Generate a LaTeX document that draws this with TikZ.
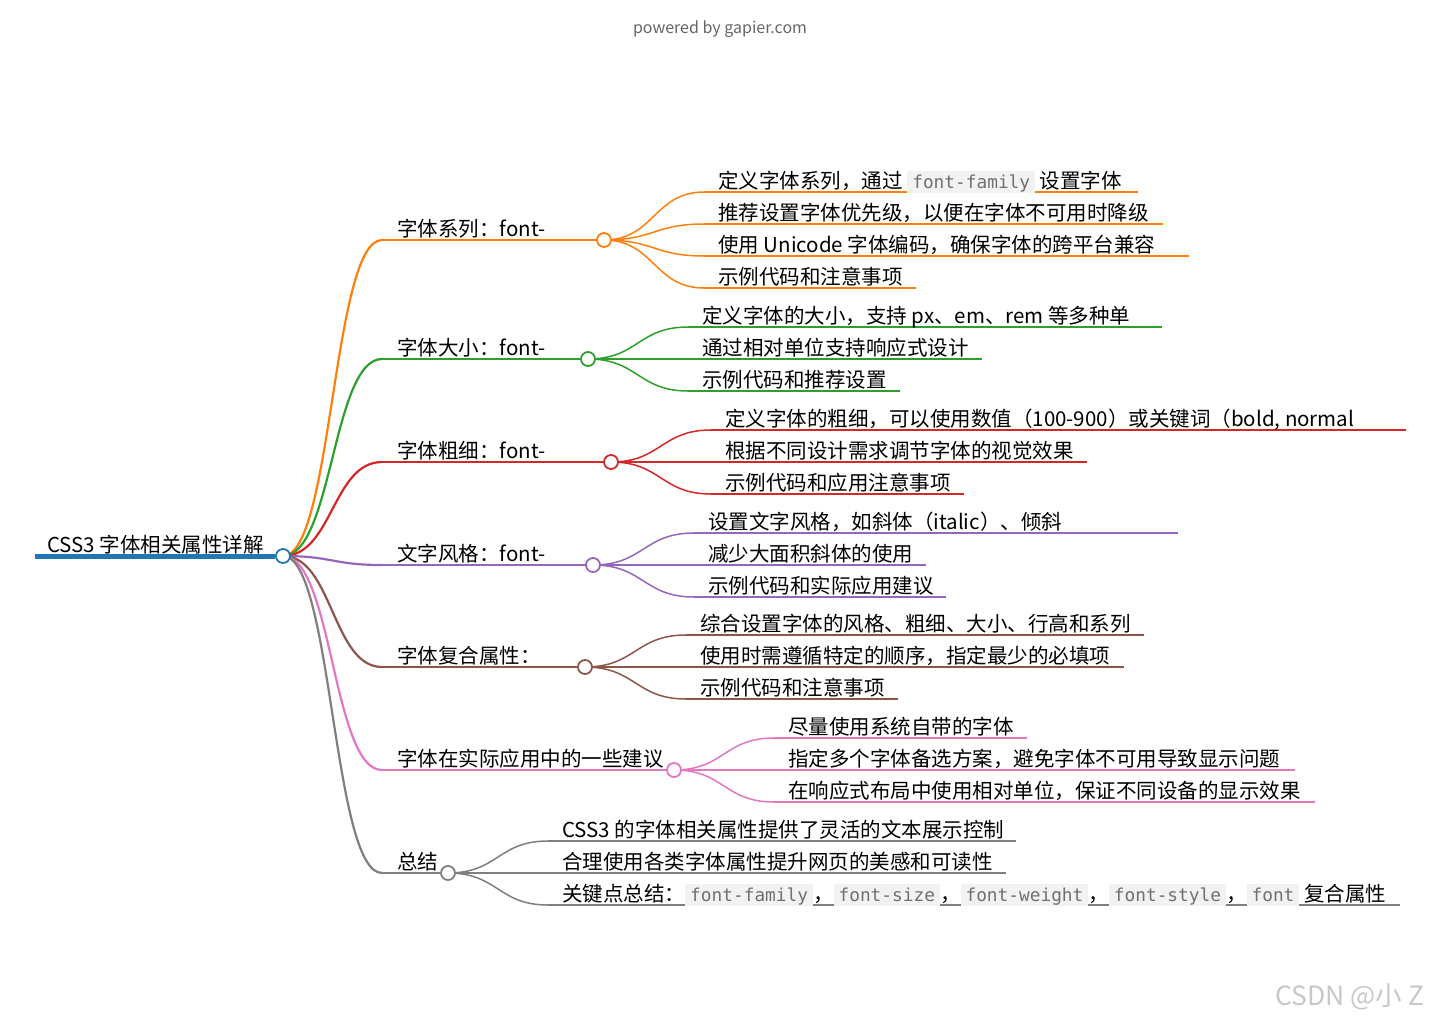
\documentclass[tikz,border=0pt]{standalone}
\usepackage{fontspec}
\setmainfont{Noto Sans CJK SC}
\newfontfamily\monof{DejaVu Sans Mono}
\usetikzlibrary{calc}
\definecolor{cRoot}{HTML}{1F77B4}
\definecolor{cOr}{HTML}{FF7F0E}
\definecolor{cGr}{HTML}{2CA02C}
\definecolor{cRe}{HTML}{D62728}
\definecolor{cPu}{HTML}{9467BD}
\definecolor{cBr}{HTML}{8C564B}
\definecolor{cPi}{HTML}{E377C2}
\definecolor{cGy}{HTML}{7F7F7F}
\definecolor{codebg}{HTML}{F2F2F2}
\definecolor{codefg}{HTML}{707070}
\definecolor{hdrc}{HTML}{666666}
\definecolor{wmc}{HTML}{C8C8C8}
\pgfdeclarelayer{bg}
\pgfsetlayers{bg,main}
\newcommand\cod[1]{{\setlength\fboxsep{0pt}\colorbox{codebg}{\rule[-5pt]{0pt}{22pt}\hspace{5pt}\textcolor{codefg}{\monof\fontsize{17.8}{20}\selectfont #1}\hspace{5pt}}}}
\newcommand\mmlink[3]{\draw[#1] let \p1=(#2), \p2=(#3), \n1={(\x1+\x2)/2} in (\p1) .. controls (\n1,\y1) and (\n1,\y2) .. (\p2);}
% name, color, y, circle x, text
\newcommand\mmbranch[5]{%
  \node[circ,draw=#2] (#1) at (#4,#3) {};
  \coordinate (#1s) at (382,#3);
  \node[txt] (#1t) at (397,#3-4) {#5};
  \begin{pgfonlayer}{bg}
    \mmlink{#2,line width=2.2pt}{root}{#1s}
    \draw[#2,line width=2.2pt] (#1s) -- (#1);
  \end{pgfonlayer}}
% name, color, parent, y, end x, text x, text
\newcommand\mmleaf[7]{%
  \coordinate (#1s) at (#6-14,#4);
  \coordinate (#1e) at (#5,#4);
  \node[txt] (#1) at (#6,#4-4) {#7};
  \begin{pgfonlayer}{bg}
    \mmlink{#2,line width=1.5pt}{#3}{#1s}
    \draw[#2,line width=1.5pt] (#1s) -- (#1e);
  \end{pgfonlayer}}
\begin{document}
\begin{tikzpicture}[x=1pt,y=-1pt,
  txt/.style={anchor=base west,inner sep=0pt,font=\fontsize{20.5}{24}\selectfont},
  circ/.style={circle,minimum size=14pt,inner sep=0pt,fill=white,line width=1.8pt},
  hdr/.style={inner sep=0pt,font=\fontsize{16}{18}\selectfont,text=hdrc},
  wm/.style={anchor=base west,inner sep=0pt,font=\fontsize{26.5}{30}\selectfont,text=wmc}]
\useasboundingbox (0,0) rectangle (1440,1021);
\node[hdr] (hdr) at (720,29) {powered by gapier.com};
\node[circ,draw=cRoot] (root) at (283,556) {};
\coordinate (rootL) at (35,556);
\node[txt] (rootT) at (47,552) {CSS3 字体相关属性详解};
\begin{pgfonlayer}{bg}
  \draw[cRoot,line width=5pt] (rootL) -- (root);
\end{pgfonlayer}

\mmbranch{A}{cOr}{240}{604}{字体系列：font-}
\mmbranch{B}{cGr}{359}{588}{字体大小：font-}
\mmbranch{C}{cRe}{462}{611}{字体粗细：font-}
\mmbranch{D}{cPu}{565}{593}{文字风格：font-}
\mmbranch{E}{cBr}{667}{585}{字体复合属性：}
\mmbranch{F}{cPi}{770}{674}{字体在实际应用中的一些建议}
\mmbranch{G}{cGy}{873}{448}{总结}

\mmleaf{a1}{cOr}{A}{192}{1138}{718}{定义字体系列，通过 \cod{font-family} 设置字体}
\mmleaf{a2}{cOr}{A}{224}{1163}{718}{推荐设置字体优先级，以便在字体不可用时降级}
\mmleaf{a3}{cOr}{A}{256}{1189}{718}{使用 Unicode 字体编码，确保字体的跨平台兼容}
\mmleaf{a4}{cOr}{A}{288}{916}{718}{示例代码和注意事项}

\mmleaf{b1}{cGr}{B}{327}{1162}{702}{定义字体的大小，支持 px、em、rem 等多种单}
\mmleaf{b2}{cGr}{B}{359}{982}{702}{通过相对单位支持响应式设计}
\mmleaf{b3}{cGr}{B}{391}{900}{702}{示例代码和推荐设置}

\mmleaf{c1}{cRe}{C}{430}{1406}{725}{定义字体的粗细，可以使用数值（100-900）或关键词（bold, normal}
\mmleaf{c2}{cRe}{C}{462}{1087}{725}{根据不同设计需求调节字体的视觉效果}
\mmleaf{c3}{cRe}{C}{494}{964}{725}{示例代码和应用注意事项}

\mmleaf{d1}{cPu}{D}{533}{1178}{708}{设置文字风格，如斜体（italic）、倾斜}
\mmleaf{d2}{cPu}{D}{565}{926}{708}{减少大面积斜体的使用}
\mmleaf{d3}{cPu}{D}{597}{946}{708}{示例代码和实际应用建议}

\mmleaf{e1}{cBr}{E}{635}{1144}{700}{综合设置字体的风格、粗细、大小、行高和系列}
\mmleaf{e2}{cBr}{E}{667}{1124}{700}{使用时需遵循特定的顺序，指定最少的必填项}
\mmleaf{e3}{cBr}{E}{699}{898}{700}{示例代码和注意事项}

\mmleaf{f1}{cPi}{F}{738}{1027}{788}{尽量使用系统自带的字体}
\mmleaf{f2}{cPi}{F}{770}{1295}{788}{指定多个字体备选方案，避免字体不可用导致显示问题}
\mmleaf{f3}{cPi}{F}{802}{1315}{788}{在响应式布局中使用相对单位，保证不同设备的显示效果}

\mmleaf{g1}{cGy}{G}{841}{1016}{562}{CSS3 的字体相关属性提供了灵活的文本展示控制}
\mmleaf{g2}{cGy}{G}{873}{1006}{562}{合理使用各类字体属性提升网页的美感和可读性}
\mmleaf{g3}{cGy}{G}{905}{1400}{562}{关键点总结：\cod{font-family}，\cod{font-size}，\cod{font-weight}，\cod{font-style}，\cod{font} 复合属性}

\node[wm] (wm) at (1275,1005) {CSDN @小 Z};
\end{tikzpicture}
\end{document}
